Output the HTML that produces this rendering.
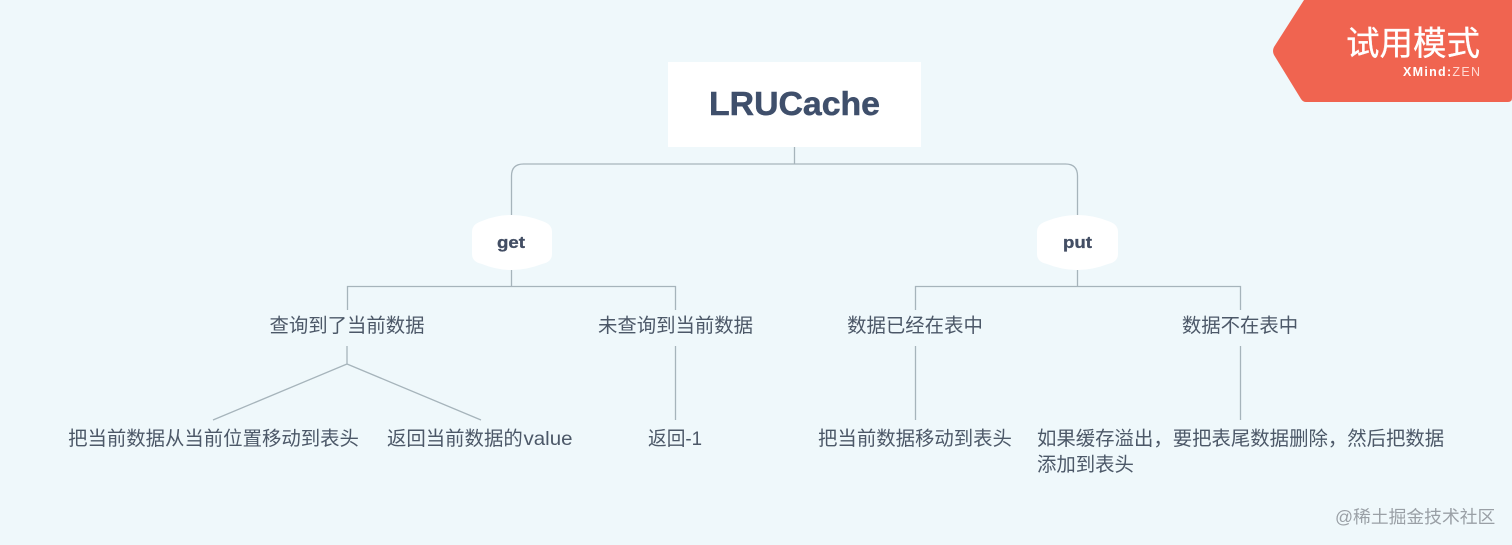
<!DOCTYPE html>
<html><head><meta charset="utf-8"><style>
html,body{margin:0;padding:0;width:1512px;height:545px;overflow:hidden;background:#eff8fb}
svg{display:block}
text{font-family:"Liberation Sans","Noto Sans CJK SC",sans-serif}
.t{font-size:19.4px;fill:#4c5868}
</style></head><body>
<svg width="1512" height="545" viewBox="0 0 1512 545" xmlns="http://www.w3.org/2000/svg">
<rect width="1512" height="545" fill="#eff8fb"/>
<g fill="none" stroke="#a6b4bb" stroke-width="1.3">
<path d="M794.5 147V164M511.5 216V176Q511.5 164 523.5 164H1065.5Q1077.5 164 1077.5 176V216"/>
<path d="M511.5 270V286.500M347.500 310V286.500H675.500V310"/>
<path d="M1077.500 270V286.500M915.500 310V286.500H1240.500V310"/>
<path d="M347 346V364M347 364L213 420M347 364L481 420"/>
<path d="M675.500 346V420M915.500 346V420M1240.500 346V420"/>
</g>
<rect x="668" y="62" width="253" height="85" fill="#fff"/>
<text x="709" y="115" font-size="33" font-weight="700" fill="#3f4f6b" stroke="#3f4f6b" stroke-width="0.5" textLength="171" lengthAdjust="spacingAndGlyphs">LRUCache</text>
<path d="M472 232Q472 224 482 221Q511 209 542 221Q552 224 552 232V254Q552 262 542 264Q511 276 482 264Q472 262 472 254Z" fill="#fff"/>
<text x="497" y="248" font-size="16.500" font-weight="700" fill="#434e64" stroke="#434e64" stroke-width="0.3" textLength="28" lengthAdjust="spacingAndGlyphs">get</text>
<path d="M1037 232Q1037 224 1047 221Q1077 209 1108 221Q1118 224 1118 232V254Q1118 262 1108 264Q1077 276 1047 264Q1037 262 1037 254Z" fill="#fff"/>
<text x="1063" y="248" font-size="16.500" font-weight="700" fill="#434e64" stroke="#434e64" stroke-width="0.3" textLength="29" lengthAdjust="spacingAndGlyphs">put</text>
<text class="t" x="347" y="332" text-anchor="middle">查询到了当前数据</text>
<text class="t" x="675.500" y="332" text-anchor="middle">未查询到当前数据</text>
<text class="t" x="915" y="332" text-anchor="middle">数据已经在表中</text>
<text class="t" x="1240" y="332" text-anchor="middle">数据不在表中</text>
<text class="t" x="213.500" y="445" text-anchor="middle">把当前数据从当前位置移动到表头</text>
<text class="t" x="387" y="445">返回当前数据的</text>
<text class="t" x="523.500" y="445" textLength="49" lengthAdjust="spacingAndGlyphs">value</text>
<text class="t" x="675" y="445" text-anchor="middle" textLength="54" lengthAdjust="spacingAndGlyphs">返回-1</text>
<text class="t" x="915" y="445" text-anchor="middle">把当前数据移动到表头</text>
<text class="t" x="1037" y="445">如果缓存溢出，要把表尾数据删除，然后把数据</text>
<text class="t" x="1037" y="471">添加到表头</text>
<path d="M1304 0H1512V98Q1512 102 1508 102H1306Q1303 102 1301 99L1274 55Q1272 51 1274 47Z" fill="#f06450"/>
<text x="1346" y="55" font-size="33.500" fill="#fff" stroke="#fff" stroke-width="0.3">试用模式</text>
<text x="1403" y="76" font-size="12.500" fill="#fff" textLength="77" lengthAdjust="spacing"><tspan font-weight="700">XMind:</tspan><tspan fill="#ffd9d2">ZEN</tspan></text>
<text x="1335" y="523" font-size="17.800" fill="#9aa0a6">@稀土掘金技术社区</text>
</svg>
</body></html>
